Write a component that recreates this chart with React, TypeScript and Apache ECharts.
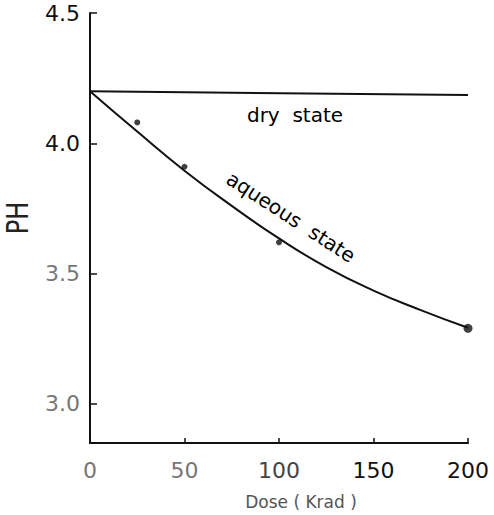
import React, { useEffect, useRef } from "react";
import * as echarts from "echarts";

const yTicks = [3.0, 3.5, 4.0, 4.5];
const xTicks = [0, 50, 100, 150, 200];
const dryLine: [number, number][] = [[0, 4.2], [200, 4.185]];
const curveX = [0, 25, 50, 75, 100, 125, 150, 175, 200];
const curveY = [4.2, 4.045, 3.895, 3.76, 3.635, 3.525, 3.435, 3.36, 3.292];
const pointX = [25, 50, 100, 200];
const pointY = [4.08, 3.91, 3.62, 3.29];

export default function App() {
  const ref = useRef<HTMLDivElement>(null);
  useEffect(() => {
    if (!ref.current) return;
    const chart = echarts.init(ref.current, null, { renderer: "svg" });
    const font = "DejaVu Sans";
    const rich = {
      dark: { fontFamily: font, fontSize: 22, color: "#111" },
      mid: { fontFamily: font, fontSize: 22, color: "#444" },
      light: { fontFamily: font, fontSize: 22, color: "#777" },
    };
    chart.setOption({
      animation: false,
      backgroundColor: "#fff",
      grid: { left: 90, right: 26, top: 13, bottom: 72 },
      xAxis: {
        type: "value",
        min: 0,
        max: 200,
        interval: 50,
        axisLine: { lineStyle: { color: "#111", width: 2 } },
        axisTick: { length: -5, lineStyle: { color: "#111", width: 1.5 } },
        axisLabel: {
          customValues: xTicks,
          margin: 16,
          fontFamily: font,
          fontSize: 22,
          rich,
          formatter: (v: number) =>
            `{${v < 100 ? "light" : v === 100 ? "mid" : "dark"}|${v}}`,
        },
        splitLine: { show: false },
      },
      yAxis: {
        type: "value",
        min: 2.85,
        max: 4.5,
        axisLine: { show: true, lineStyle: { color: "#111", width: 2 } },
        axisTick: {
          show: true,
          length: -7,
          customValues: yTicks,
          lineStyle: { color: "#111", width: 1.5 },
        },
        axisLabel: {
          customValues: yTicks,
          margin: 10,
          fontFamily: font,
          fontSize: 22,
          rich,
          formatter: (v: number) => `{${v >= 4 ? "dark" : "light"}|${v.toFixed(1)}}`,
        },
        splitLine: { show: false },
      },
      series: [
        {
          type: "line",
          data: dryLine,
          showSymbol: false,
          lineStyle: { color: "#111", width: 2 },
        },
        {
          type: "line",
          data: curveX.map((x, i) => [x, curveY[i]]),
          smooth: true,
          showSymbol: false,
          lineStyle: { color: "#111", width: 2 },
        },
        {
          type: "scatter",
          data: pointX.map((x, i) => [x, pointY[i]]),
          symbolSize: (v: number[]) => (v[0] === 200 ? 9 : 6),
          itemStyle: { color: "#111" },
        },
      ],
      graphic: [
        {
          type: "text",
          x: 295,
          y: 115,
          style: {
            text: "dry  state",
            fontFamily: font,
            fontSize: 20,
            fill: "#000",
            align: "center",
            verticalAlign: "middle",
          },
        },
        {
          type: "text",
          x: 291,
          y: 217,
          rotation: (-33 * Math.PI) / 180,
          style: {
            text: "aqueous  state",
            fontFamily: font,
            fontSize: 20,
            fill: "#000",
            align: "center",
            verticalAlign: "middle",
          },
        },
        {
          type: "text",
          x: 301,
          y: 502,
          style: {
            text: "Dose ( Krad )",
            fontFamily: font,
            fontSize: 17,
            fill: "#555",
            align: "center",
            verticalAlign: "middle",
          },
        },
        {
          type: "text",
          x: 18,
          y: 218,
          rotation: Math.PI / 2,
          scaleX: 0.8,
          style: {
            text: "PH",
            fontFamily: font,
            fontSize: 30,
            fill: "#222",
            align: "center",
            verticalAlign: "middle",
          },
        },
      ],
    });
    return () => chart.dispose();
  }, []);
  return <div ref={ref} style={{ width: 494, height: 515, position: "absolute", left: 0, top: 0 }} />;
}
